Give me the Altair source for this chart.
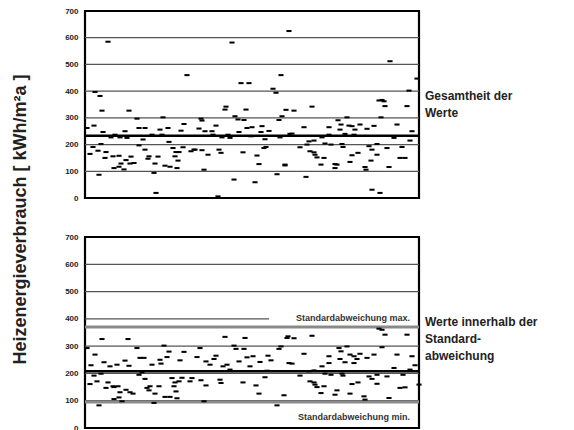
import altair as alt
import pandas as pd

# ---- data (object index, kWh/m²a) ----
top_x = [85, 92, 88, 91, 93, 98, 106, 96, 97, 99, 100, 101, 104, 103, 109, 113, 111, 117, 112, 117,
         119, 118, 123, 124, 125, 127, 128, 129, 132, 122, 135, 137, 137, 141, 143, 143, 146, 147, 150, 152,
         153, 156, 154, 158, 160, 161, 163, 166, 167, 168, 171, 173, 174, 175, 176, 177, 181, 179, 182, 185,
         189, 192, 193, 197, 199, 200, 200, 202, 203, 206, 210, 211, 214, 216, 217, 219, 220, 223, 224, 226,
         228, 230, 232, 233, 236, 237, 239, 241, 242, 244, 245, 247, 249, 250, 253, 255, 257, 259, 260, 262,
         264, 263, 267, 271, 274, 275, 277, 278, 279, 280, 283, 284, 287, 288,
         388, 415, 407, 377, 380, 382, 383, 405, 310, 292, 336, 345, 379, 302, 327, 339, 347, 350, 358, 365,
         372, 395, 338, 353, 290, 320, 327, 343, 352, 392, 410, 408, 307, 312, 323, 329, 340, 341, 298, 305,
         367, 375, 385, 400, 370, 308, 312, 313, 315, 322, 350, 356, 375, 398, 403, 283, 319, 333, 335, 348,
         369, 333, 363, 364, 387, 304, 370, 378]
top_v = [262, 271, 165, 191, 397, 382, 585, 177, 87, 202, 327, 247, 172, 150, 227, 237, 156, 158, 112, 117,
         129, 227, 250, 142, 225, 327, 129, 155, 131, 107, 297, 262, 197, 219, 262, 181, 147, 156, 237, 94,
         129, 155, 19, 256, 237, 302, 121, 262, 210, 117, 187, 156, 172, 112, 140, 172, 190, 252, 277, 460,
         175, 181, 181, 260, 297, 290, 179, 106, 250, 162, 250, 237, 271, 6, 181, 169, 227, 331, 342, 237,
         225, 582, 69, 306, 294, 247, 430, 171, 292, 331, 262, 430, 231, 265, 59, 159, 127, 247, 269, 187,
         191, 220, 251, 409, 394, 89, 292, 227, 460, 306, 122, 330, 625, 240,
         512, 447, 402, 365, 367, 362, 344, 344, 342, 327, 291, 302, 302, 265, 265, 275, 271, 269, 275, 259,
         270, 275, 256, 256, 241, 227, 237, 240, 237, 225, 250, 215, 212, 215, 204, 200, 202, 191, 190, 200,
         194, 202, 187, 191, 181, 175, 171, 162, 152, 150, 160, 169, 162, 150, 150, 125, 125, 127, 125, 135,
         140, 112, 116, 106, 116, 79, 31, 19]

bot_x = [85, 93, 89, 92, 88, 95, 97, 99, 100, 102, 104, 106, 108, 111, 112, 115, 116, 112, 117, 118,
         120, 123, 124, 126, 127, 128, 131, 135, 137, 138, 140, 142, 143, 145, 147, 148, 150, 152, 153, 157,
         158, 159, 162, 163, 165, 167, 168, 170, 172, 173, 174, 175, 177, 178, 180, 182, 188, 190, 195, 198,
         199, 202, 204, 204, 208, 212, 214, 218, 219, 221, 223, 225, 228, 232, 234, 237, 241, 242, 243, 245,
         248, 251, 254, 257, 258, 263, 265, 266, 269, 275, 277, 279, 282, 285, 287,
         377, 380, 383, 405, 310, 286, 292, 337, 345, 380, 302, 327, 339, 348, 352, 358, 365, 372, 395, 338,
         355, 290, 320, 327, 343, 352, 392, 410, 413, 408, 307, 312, 323, 329, 340, 341, 298, 367, 375, 385,
         401, 370, 308, 312, 313, 315, 322, 350, 356, 375, 398, 403, 417, 319, 333, 335, 348, 362, 363, 387]
bot_v = [293, 269, 230, 192, 161, 171, 83, 199, 326, 241, 147, 167, 226, 153, 150, 232, 153, 106, 112, 131,
         98, 247, 140, 326, 228, 131, 126, 293, 195, 257, 204, 257, 180, 147, 138, 153, 232, 92, 126, 153,
         250, 236, 302, 114, 260, 280, 114, 183, 153, 167, 134, 109, 171, 248, 184, 279, 171, 183, 260, 293,
         175, 98, 244, 156, 232, 253, 265, 177, 165, 226, 334, 232, 214, 302, 290, 244, 167, 290, 330, 259,
         226, 263, 156, 126, 242, 186, 210, 265, 248, 83, 290, 299, 120, 330, 238,
         364, 360, 342, 342, 338, 336, 329, 293, 299, 296, 272, 263, 281, 269, 263, 272, 257, 269, 269, 253,
         253, 236, 226, 238, 241, 238, 220, 263, 230, 214, 208, 211, 199, 195, 199, 192, 192, 189, 195, 189,
         195, 180, 171, 167, 159, 150, 153, 161, 167, 162, 147, 149, 159, 128, 122, 138, 126, 116, 104, 110]

y_ticks = [0, 100, 200, 300, 400, 500, 600, 700]
grid_full_top = [100, 200, 300, 400, 500, 600]
grid_full_bottom = [100, 200, 300, 500, 600]
grid_part_bottom = [400]
top_mean = [233]
bottom_mean = [208]
std_lines = [370, 95]
std_label_v = [404, 42]
std_labels = ["Standardabweichung max.", "Standardabweichung min."]
top_note = "Gesamtheit der\nWerte"
bottom_note = "Werte innerhalb der\nStandard-\nabweichung"
y_title = "Heizenergieverbrauch  [ kWh/m²a ]"

FONT = "Liberation Sans"
W = 334
xscale = alt.Scale(domain=[83, 417], nice=False, zero=False)
yscale = alt.Scale(domain=[0, 700], nice=False)
yaxis = alt.Axis(values=y_ticks, grid=False, domain=False, ticks=False, title=None,
                 labelFontSize=8, labelFontWeight="bold", labelColor="#222222",
                 labelFont=FONT, labelPadding=7)
DASH = "M-1,-0.4L1,-0.4L1,0.4L-1,0.4Z"


def Y():
    return alt.Y("v:Q", scale=yscale, axis=yaxis)


def panel(xs, vs, grid_full, mean_vals, height, note, extra=None):
    pts = pd.DataFrame({"obj": xs, "v": vs})
    base_grid = alt.Chart(pd.DataFrame({"v": grid_full})).mark_rule(
        color="#555555", strokeWidth=1.3).encode(y=Y())
    mean = alt.Chart(pd.DataFrame({"v": mean_vals})).mark_rule(
        color="black", strokeWidth=2.6).encode(y=Y())
    points = alt.Chart(pts).mark_point(
        shape=DASH, filled=True, size=26, color="black", opacity=1, strokeWidth=0).encode(
        x=alt.X("obj:Q", scale=xscale, axis=None), y=Y())
    text = alt.Chart(pd.DataFrame({"t": [note]})).mark_text(
        align="left", baseline="alphabetic", lineBreak="\n", fontSize=12, fontWeight="bold",
        font=FONT, color="#222222", lineHeight=17).encode(
        x=alt.value(W + 6), y=alt.value(89), text="t:N")
    layers = [base_grid]
    if extra:
        layers += extra
    layers += [mean, points, text]
    return alt.layer(*layers).properties(width=W, height=height)


part_grid = alt.Chart(pd.DataFrame({"v": grid_part_bottom})).mark_rule(
    color="#555555", strokeWidth=1.3).encode(y=Y(), x=alt.value(0), x2=alt.value(184))
std = alt.Chart(pd.DataFrame({"v": std_lines})).mark_rule(
    color="#8a8a8a", strokeWidth=3).encode(y=Y())
std_txt = alt.Chart(pd.DataFrame({"v": std_label_v, "t": std_labels})).mark_text(
    align="right", baseline="middle", fontSize=9, fontWeight="bold", font=FONT,
    color="#333333").encode(y=Y(), x=alt.value(W - 9), text="t:N")

top = panel(top_x, top_v, grid_full_top, top_mean, 187, top_note)
bottom = panel(bot_x, bot_v, grid_full_bottom, bottom_mean, 191, bottom_note,
               extra=[part_grid, std, std_txt])

chart = alt.vconcat(top, bottom, spacing=27).properties(
    title=alt.TitleParams(y_title, orient="left", anchor="middle", fontSize=18,
                          fontWeight="bold", font=FONT, color="#222222", offset=34),
    padding={"left": 3, "top": -3, "right": 0, "bottom": 0},
).configure_view(stroke="black", strokeWidth=2.2).configure_concat(spacing=27)

chart.save("out.html", embed_options={"renderer": "svg", "actions": False})
